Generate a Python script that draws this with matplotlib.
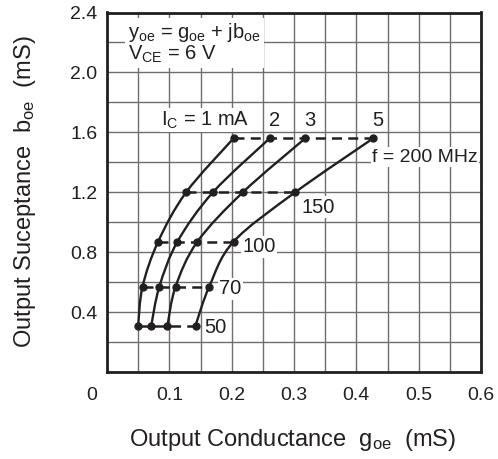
import numpy as np
import matplotlib
matplotlib.use("Agg")
import matplotlib.pyplot as plt
from matplotlib.path import Path
from matplotlib.patches import PathPatch
from matplotlib.transforms import ScaledTranslation

plt.rcParams["font.family"] = ["Liberation Sans", "DejaVu Sans"]
plt.rcParams["mathtext.fontset"] = "custom"
plt.rcParams["mathtext.rm"] = "Liberation Sans"
plt.rcParams["mathtext.it"] = "Liberation Sans"

INK = "#231f20"

# frequency points (MHz) and output susceptance b_oe (mS) at each frequency
freq = [50, 70, 100, 150, 200]
b_oe = [0.31, 0.57, 0.87, 1.20, 1.56]

# output conductance g_oe (mS) for each collector current
ic_labels = ["1", "2", "3", "5"]
g_ic1 = [0.050, 0.057, 0.082, 0.127, 0.203]
g_ic2 = [0.071, 0.084, 0.113, 0.170, 0.261]
g_ic3 = [0.097, 0.110, 0.145, 0.218, 0.318]
g_ic5 = [0.142, 0.164, 0.203, 0.302, 0.427]
curves = [g_ic1, g_ic2, g_ic3, g_ic5]

x_ticks = [0, 0.1, 0.2, 0.3, 0.4, 0.5, 0.6]
y_ticks = [0.4, 0.8, 1.2, 1.6, 2.0, 2.4]


def smooth_path(xs, ys):
    """Catmull-Rom through the points, written as cubic bezier segments."""
    pts = np.column_stack([xs, ys])
    verts = [pts[0]]
    codes = [Path.MOVETO]
    n = len(pts)
    for i in range(n - 1):
        p0 = pts[max(i - 1, 0)]
        p1 = pts[i]
        p2 = pts[i + 1]
        p3 = pts[min(i + 2, n - 1)]
        c1 = p1 + (p2 - p0) / 6.0
        c2 = p2 - (p3 - p1) / 6.0
        verts += [c1, c2, p2]
        codes += [Path.CURVE4] * 3
    return Path(verts, codes)


fig = plt.figure(figsize=(4.98, 4.59), dpi=100)
ax = fig.add_axes([107 / 498, 1 - 372 / 459, 374 / 498, 359.5 / 459])

ax.set_xlim(0, 0.6)
ax.set_ylim(0, 2.4)
ax.set_xticks(x_ticks)
ax.set_xticklabels(["0", "0.1", "0.2", "0.3", "0.4", "0.5", "0.6"])
ax.set_xticks(np.arange(0, 0.601, 0.05), minor=True)
ax.set_yticks(y_ticks)
ax.set_yticklabels(["0.4", "0.8", "1.2", "1.6", "2.0", "2.4"])
ax.set_yticks(np.arange(0, 2.401, 0.2), minor=True)
ax.grid(which="both", color="#6e6e6e", linewidth=1.0)
ax.set_axisbelow(True)
ax.tick_params(which="both", length=0, labelsize=14, colors=INK)
ax.tick_params(axis="x", pad=11)
ax.tick_params(axis="y", pad=7)
for sp in ax.spines.values():
    sp.set_linewidth(2.0)
    sp.set_color(INK)

# the "0" sits out at the corner
lab0 = ax.get_xticklabels()[0]
lab0.set_transform(lab0.get_transform() + ScaledTranslation(-15 / 100, 0, fig.dpi_scale_trans))

# constant-frequency dashed lines
for k, b in enumerate(b_oe):
    row = [c[k] for c in curves]
    ax.plot(row, [b] * len(row), color=INK, lw=1.8, ls=(0, (4, 2.5)), zorder=3)

# current curves
for g in curves:
    ax.add_patch(PathPatch(smooth_path(g, b_oe), fill=False, ec=INK, lw=1.7, zorder=4))
    ax.plot(g, b_oe, "o", color=INK, ms=5, zorder=5)

box = dict(facecolor="white", edgecolor="none", pad=1.0)
fs = 14.5

# IC labels above the 200 MHz points
ax.annotate("I$_\\mathrm{C}$ = 1 mA", (g_ic1[-1], b_oe[-1]), xytext=(16, 18),
            textcoords="offset pixels", ha="right", va="center", fontsize=fs, color=INK, bbox=box)
for g, lab in zip(curves[1:], ic_labels[1:]):
    ax.annotate(lab, (g[-1], b_oe[-1]), xytext=(5, 18), textcoords="offset pixels",
                ha="center", va="center", fontsize=fs, color=INK, bbox=box)

# frequency labels next to the 5 mA curve
ax.annotate("f = 200 MHz", (g_ic5[4], b_oe[4]), xytext=(-1, -19), textcoords="offset pixels",
            ha="left", va="center", fontsize=14, color=INK, bbox=box)
ax.annotate("150", (g_ic5[3], b_oe[3]), xytext=(6, -15), textcoords="offset pixels",
            ha="left", va="center", fontsize=fs, color=INK, bbox=box)
ax.annotate("100", (g_ic5[2], b_oe[2]), xytext=(9, -5), textcoords="offset pixels",
            ha="left", va="center", fontsize=fs, color=INK, bbox=box)
ax.annotate("70", (g_ic5[1], b_oe[1]), xytext=(10, -2), textcoords="offset pixels",
            ha="left", va="center", fontsize=fs, color=INK, bbox=box)
ax.annotate("50", (g_ic5[0], b_oe[0]), xytext=(9, -2), textcoords="offset pixels",
            ha="left", va="center", fontsize=fs, color=INK, bbox=box)

ax.text(0.056, 0.975, "y$_\\mathrm{oe}$ = g$_\\mathrm{oe}$ + jb$_\\mathrm{oe}$\nV$_\\mathrm{CE}$ = 6 V",
        transform=ax.transAxes, ha="left", va="top", fontsize=fs, color=INK,
        linespacing=0.95, bbox=dict(facecolor="white", edgecolor="none", pad=2.0), zorder=6)

ax.set_xlabel("Output Conductance  g$_\\mathrm{oe}$  (mS)", fontsize=17, color=INK)
ax.set_ylabel("Output Suceptance  b$_\\mathrm{oe}$  (mS)", fontsize=17, color=INK)
ax.xaxis.label.set_va("center")
ax.yaxis.label.set_va("center")
ax.xaxis.set_label_coords(0.497, -0.189)
ax.yaxis.set_label_coords(-0.219, 0.503)

fig.savefig("out.png", dpi=100)
